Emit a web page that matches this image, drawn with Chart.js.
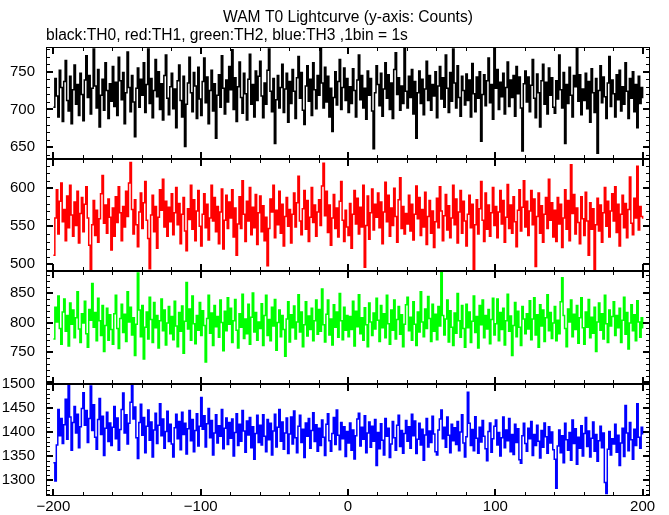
<!DOCTYPE html>
<html>
<head>
<meta charset="utf-8">
<title>WAM T0 Lightcurve</title>
<script src="https://cdn.jsdelivr.net/npm/chart.js@4.4.1/dist/chart.umd.min.js"></script>
<style>
  body { margin: 0; background: #fff; }
  #wrap { position: relative; width: 669px; height: 515px; }
  canvas { position: absolute; left: 0; }
</style>
</head>
<body>
<div id="wrap">
  <canvas id="th0" width="669" height="159" style="top:0px"></canvas>
  <canvas id="th1" width="669" height="112" style="top:159px"></canvas>
  <canvas id="th2" width="669" height="113" style="top:271px"></canvas>
  <canvas id="th3" width="669" height="141" style="top:374px"></canvas>
</div>
<script>
// time of first bin (s), 1 bin = 1 s
const binStart = -200;

// counts per bin
const th0 = [
  703,741,718,690,752,729,684,737,765,712,698,744,681,726,759,707,733,692,748,720,
  685,739,771,716,745,694,728,780,731,702,753,677,719,740,699,762,725,688,734,711,
  757,704,736,692,769,738,713,749,681,722,776,729,697,745,710,664,728,755,703,740,
  719,762,696,733,780,708,741,689,725,766,717,750,700,734,686,745,772,715,693,730,
  748,701,727,676,738,759,712,690,744,651,707,735,769,722,697,749,731,688,756,714,
  692,737,768,709,743,681,725,752,698,734,662,719,746,703,771,728,694,739,710,757,
  726,779,700,742,684,730,763,716,695,748,721,686,740,773,707,733,690,751,712,744,
  764,718,689,735,707,752,780,724,697,741,655,713,745,702,729,760,696,727,748,683,
  737,708,753,724,688,742,770,715,749,699,680,731,758,711,740,692,762,726,701,745,
  719,781,735,702,756,710,744,690,728,671,716,750,706,737,766,700,729,755,712,741,
  696,730,708,754,725,690,739,772,713,745,702,728,687,751,719,741,698,648,722,758,
  733,705,748,691,727,762,715,746,700,735,688,753,775,720,742,699,731,708,781,724,
  702,744,716,753,694,737,662,722,751,708,740,693,727,764,712,745,699,733,718,750,
  689,731,757,714,742,703,772,728,696,749,711,780,735,702,758,716,691,744,725,706,
  747,712,739,690,761,721,697,743,715,750,658,720,746,705,738,768,709,733,687,781,
  728,753,700,736,717,748,694,729,763,704,739,716,745,691,757,721,743,702,645,734,
  751,710,743,697,732,766,715,689,747,722,677,738,760,707,736,694,755,719,742,703,
  695,738,714,772,726,702,749,655,733,708,756,719,690,745,730,781,711,746,693,727,
  712,748,701,737,683,754,722,696,741,642,725,758,709,743,717,688,735,770,704,739,
  721,690,746,713,752,698,730,707,762,724,688,741,715,750,697,733,676,744,708,729,
  715
];
const th1 = [
  512,561,598,540,583,607,556,572,531,590,548,604,565,537,582,551,596,528,567,588,
  543,579,602,561,525,493,552,584,538,571,529,560,593,617,554,578,541,586,562,519,
  574,537,589,555,602,568,531,576,549,596,563,607,634,572,540,585,552,523,569,594,
  547,581,609,558,534,494,565,591,543,576,521,562,598,571,612,549,583,537,575,556,
  593,539,568,601,552,580,527,566,588,544,518,573,559,604,546,585,531,570,597,550,
  524,566,593,548,579,532,561,604,557,588,543,576,527,569,599,520,558,591,547,582,
  561,598,536,574,512,553,589,547,610,566,530,583,557,601,539,575,548,592,526,568,
  590,543,577,531,562,498,547,586,569,604,535,571,552,596,541,579,524,563,588,550,
  572,528,566,594,549,581,616,557,539,573,597,546,584,530,562,601,555,578,537,569,
  585,551,603,633,564,596,542,578,525,561,592,547,574,536,583,609,558,530,571,549,
  538,580,521,566,597,553,587,540,575,549,604,496,551,590,533,568,599,545,579,562,
  594,548,582,527,569,608,556,591,537,574,551,600,563,529,585,614,547,576,540,567,
  553,591,544,579,532,566,603,560,588,538,572,549,595,526,563,584,541,570,522,556,
  587,548,602,570,531,564,592,545,577,535,561,604,552,586,528,569,597,541,583,557,
  524,566,591,548,579,493,552,585,540,573,609,558,530,594,546,578,537,568,601,551,
  576,535,569,597,553,584,529,562,605,547,578,541,589,556,523,571,598,544,575,610,
  549,583,538,570,597,552,586,497,563,594,541,577,529,566,588,547,612,558,581,536,
  571,530,588,553,579,522,561,598,546,584,531,631,567,592,540,574,555,527,589,560,
  538,595,557,512,581,546,573,491,552,587,544,578,529,568,601,550,583,536,570,593,
  557,602,542,579,524,566,591,548,580,535,572,615,554,539,587,561,629,545,576,563,
  560
];
const th2 = [
  772,826,801,845,790,763,818,840,785,812,760,833,797,821,774,808,852,789,766,815,
  799,836,781,758,822,804,866,792,817,769,841,803,778,829,751,795,824,770,813,788,
  763,815,846,790,756,807,831,783,814,768,852,801,826,779,808,744,797,884,821,776,
  829,738,792,818,772,843,805,766,834,791,812,757,803,840,786,821,762,799,827,781,
  810,771,836,794,759,817,785,828,748,802,868,789,823,770,845,798,764,812,787,834,
  778,820,795,733,807,846,782,816,761,829,793,810,775,838,800,752,819,786,842,797,
  824,766,803,839,787,757,815,792,848,773,806,781,831,763,809,850,784,817,770,801,
  790,832,761,812,846,778,805,769,826,794,839,753,800,821,776,812,788,743,806,835,
  767,813,791,828,772,801,847,784,818,759,796,835,777,811,788,824,769,803,838,780,
  822,785,857,796,767,814,838,779,806,762,830,792,818,775,849,803,771,826,787,812,
  776,810,788,836,760,819,793,847,781,808,770,825,796,759,833,801,778,816,789,841,
  804,768,829,791,815,774,846,798,763,821,787,838,772,805,827,780,813,759,797,830,
  843,786,809,770,835,797,761,818,784,852,801,776,823,790,844,807,768,831,785,814,
  771,827,794,886,812,779,806,838,767,820,792,761,816,782,849,803,775,829,790,758,
  831,791,818,766,802,845,783,810,757,829,796,838,774,812,789,822,764,805,841,779,
  798,840,769,817,788,824,762,803,848,785,811,744,795,834,776,819,792,761,827,806,
  781,815,789,837,771,806,842,779,813,758,830,794,821,768,808,847,786,817,773,799,
  827,769,804,781,835,876,812,790,759,823,801,838,776,814,788,829,765,808,842,791,
  763,818,792,839,774,809,782,826,751,801,833,787,815,772,846,798,766,821,794,810,
  835,778,812,791,824,766,804,843,780,817,755,799,830,786,813,769,837,801,775,808,
  790
];
const th3 = [
  1336,1298,1373,1447,1392,1428,1376,1415,1468,1385,1500,1431,1362,1420,1453,1398,1437,1367,1411,1449,
  1482,1414,1445,1378,1428,1496,1403,1457,1389,1364,1426,1470,1395,1433,1351,1408,1441,1380,1419,1372,
  1410,1453,1386,1429,1362,1405,1447,1481,1398,1436,1375,1418,1462,1499,1427,1452,1388,1345,1420,1458,
  1393,1430,1357,1412,1446,1383,1421,1348,1404,1439,1376,1414,1459,1392,1427,1366,1401,1443,1380,1416,
  1375,1348,1409,1437,1386,1422,1363,1441,1395,1418,1354,1407,1445,1382,1426,1359,1403,1438,1371,1412,
  1472,1406,1434,1369,1417,1449,1388,1424,1352,1398,1436,1377,1413,1391,1447,1365,1408,1429,1374,1420,
  1387,1427,1350,1399,1438,1372,1416,1381,1445,1402,1358,1423,1394,1430,1367,1411,1343,1397,1435,1378,
  1414,1373,1436,1391,1359,1426,1384,1418,1352,1402,1437,1369,1410,1447,1381,1421,1364,1398,1429,1355,
  1396,1431,1375,1444,1388,1357,1412,1435,1378,1406,1347,1419,1391,1428,1366,1403,1440,1380,1415,1360,
  1408,1372,1425,1389,1351,1416,1438,1382,1360,1397,1430,1374,1446,1393,1363,1420,1386,1411,1349,1401,
  1377,1419,1362,1404,1344,1392,1427,1439,1371,1410,1385,1434,1357,1398,1421,1368,1412,1381,1426,1330,
  1399,1365,1417,1383,1352,1428,1391,1408,1347,1375,1422,1388,1362,1414,1435,1370,1403,1356,1397,1424,
  1381,1411,1366,1437,1392,1423,1355,1385,1418,1373,1406,1341,1394,1428,1369,1402,1378,1433,1396,1359,
  1352,1404,1427,1446,1386,1410,1368,1431,1393,1357,1416,1382,1409,1374,1422,1361,1400,1436,1377,1348,
  1390,1483,1418,1372,1405,1361,1432,1387,1356,1410,1379,1424,1391,1365,1340,1401,1419,1358,1386,1412,
  1425,1373,1399,1350,1388,1431,1367,1404,1382,1428,1359,1395,1353,1416,1378,1407,1342,1335,1392,1418,
  1376,1360,1408,1386,1422,1351,1395,1372,1414,1381,1346,1403,1368,1419,1390,1356,1411,1377,1400,1363,
  1343,1283,1371,1404,1357,1392,1336,1418,1384,1362,1399,1341,1425,1376,1407,1333,1389,1366,1413,1350,
  1397,1430,1370,1402,1348,1387,1421,1360,1395,1339,1382,1412,1367,1398,1295,1272,1364,1401,1352,1386,
  1375,1416,1358,1393,1330,1377,1408,1349,1455,1398,1361,1420,1384,1343,1406,1372,1459,1389,1366,1410,
  1395
];

// tick labels
const xTickValues = [-200, -100, 0, 100, 200];
const yTicks0 = [650, 700, 750];
const yTicks1 = [500, 550, 600];
const yTicks2 = [750, 800, 850];
const yTicks3 = [1300, 1350, 1400, 1450, 1500];

const FONT = '"Liberation Sans", Arial, Helvetica, sans-serif';

// frame with inward ticks on all four sides
const frameTicks = {
  id: 'frameTicks',
  afterDraw(chart) {
    const { ctx, chartArea: a, scales } = chart;
    const x = scales.x, y = scales.y;
    ctx.save();
    ctx.strokeStyle = '#000';
    ctx.lineWidth = 1;
    ctx.strokeRect(a.left + 0.5, a.top + 0.5, a.right - a.left - 1, a.bottom - a.top - 1);
    const line = (x1, y1, x2, y2, w) => {
      ctx.lineWidth = w;
      ctx.beginPath();
      ctx.moveTo(x1, y1);
      ctx.lineTo(x2, y2);
      ctx.stroke();
    };
    for (let v = -200; v <= 200; v += 20) {
      const major = v % 100 === 0;
      const len = major ? 7 : 4, w = major ? 2 : 1;
      let px = Math.round(x.getPixelForValue(v));
      if (!major) px += 0.5;
      line(px, a.top, px, a.top + len, w);
      line(px, a.bottom, px, a.bottom - len, w);
    }
    const step = 10;
    for (let v = Math.ceil(y.min / step) * step; v <= y.max; v += step) {
      const major = v % 50 === 0;
      const len = major ? 7 : 4, w = major ? 2 : 1;
      let py = Math.round(y.getPixelForValue(v));
      if (!major) py += 0.5;
      line(a.left, py, a.left + len, py, w);
      line(a.right, py, a.right - len, py, w);
    }
    ctx.restore();
  }
};

function makePanel(id, values, color, yMin, yMax, yTicks, bottom, top, padTop) {
  const points = values.map((v, i) => ({ x: binStart + i, y: v }));
  return new Chart(document.getElementById(id), {
    type: 'line',
    data: {
      datasets: [{
        data: points,
        borderColor: color,
        borderWidth: 1.5,
        pointRadius: 0,
        stepped: true,
        fill: false
      }]
    },
    options: {
      responsive: false,
      animation: false,
      events: [],
      layout: { padding: { left: 0, right: 19, top: padTop, bottom: 0 } },
      plugins: {
        legend: { display: false },
        tooltip: { enabled: false },
        title: {
          display: !!top,
          text: 'WAM T0 Lightcurve (y-axis: Counts)',
          fullSize: false,
          align: 'center',
          color: '#000',
          font: { family: FONT, size: 15.6, weight: 'normal', lineHeight: 1.2 },
          padding: { top: 8, bottom: 0 }
        },
        subtitle: {
          display: !!top,
          text: 'black:TH0, red:TH1, green:TH2, blue:TH3 ,1bin = 1s',
          fullSize: false,
          align: 'start',
          color: '#000',
          font: { family: FONT, size: 15.6, weight: 'normal', lineHeight: 1.2 },
          padding: { top: 0, bottom: 1.56 }
        }
      },
      scales: {
        x: {
          type: 'linear',
          min: -205,
          max: 205,
          display: bottom,
          grid: { display: false, drawTicks: false },
          border: { display: false },
          ticks: {
            color: '#000',
            padding: 2,
            maxRotation: 0,
            font: { family: FONT, size: 15 },
            callback: v => (v < 0 ? '\u2212' + (-v) : String(v))
          },
          afterBuildTicks: s => { s.ticks = xTickValues.map(v => ({ value: v })); },
          afterFit: s => { s.height = bottom ? 19 : 0; s.paddingLeft = 0; s.paddingRight = 0; }
        },
        y: {
          min: yMin,
          max: yMax,
          grid: { display: false, drawTicks: false },
          border: { display: false },
          ticks: {
            color: '#000',
            padding: 11,
            font: { family: FONT, size: 15 },
            callback: v => String(v)
          },
          afterBuildTicks: s => { s.ticks = yTicks.map(v => ({ value: v })); },
          afterFit: s => { s.width = 46; s.paddingTop = 0; s.paddingBottom = 0; }
        }
      }
    },
    plugins: [frameTicks]
  });
}

makePanel('th0', th0, '#000000', 634.5, 782.7, yTicks0, false, true, 0);
makePanel('th1', th1, '#ff0000', 491.2, 638.6, yTicks1, false, false, 0);
makePanel('th2', th2, '#00ff00', 695.8, 887.3, yTicks2, false, false, 0);
makePanel('th3', th3, '#0000ff', 1266.7, 1500, yTicks3, true, false, 10);
</script>
</body>
</html>
